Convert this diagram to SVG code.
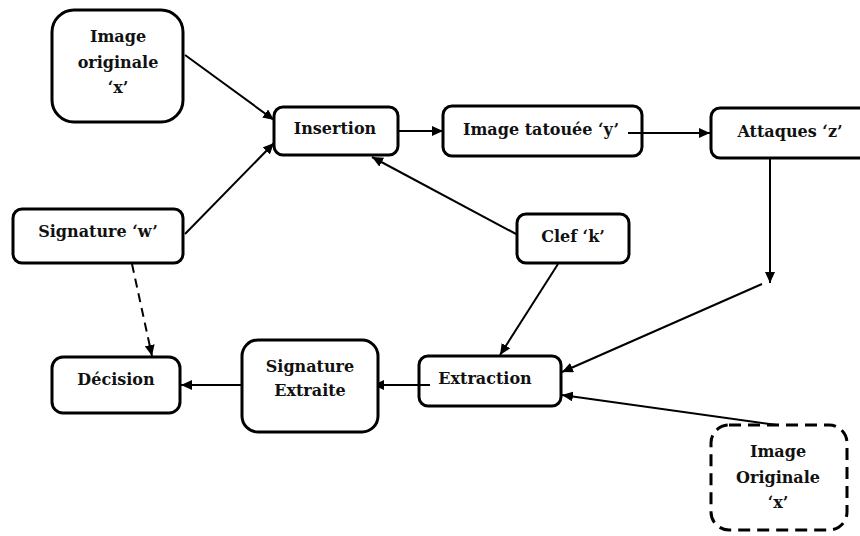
<svg xmlns="http://www.w3.org/2000/svg" width="860" height="536" viewBox="0 0 860 536">
<defs>
<marker id="ah" markerUnits="userSpaceOnUse" markerWidth="12" markerHeight="10" refX="11" refY="5" orient="auto">
<path d="M0,0 L11,5 L0,10 z" fill="#000"/>
</marker>
<style>
.box{fill:#fff;stroke:#000;stroke-width:3}
.dbox{fill:#fff;stroke:#000;stroke-width:3;stroke-dasharray:12,7}
.t{font-family:"DejaVu Serif","Liberation Serif",serif;font-weight:bold;font-size:16px;fill:#111;text-anchor:middle}
.c{stroke:#000;stroke-width:2;fill:none}
.cd{stroke:#000;stroke-width:2;fill:none;stroke-dasharray:9,6}
</style>
</defs>
<rect width="860" height="536" fill="#fff"/>
<g id="connectors">
<line class="c" x1="185" y1="55" x2="274" y2="120" marker-end="url(#ah)"/>
<line class="c" x1="185" y1="234" x2="274" y2="143" marker-end="url(#ah)"/>
<line class="c" x1="398" y1="131" x2="443" y2="131" marker-end="url(#ah)"/>
<line class="c" x1="628" y1="133" x2="710" y2="133" marker-end="url(#ah)"/>
<line class="c" x1="770" y1="158" x2="770" y2="283" marker-end="url(#ah)"/>
<line class="c" x1="762" y1="284" x2="562" y2="372" marker-end="url(#ah)"/>
<line class="c" x1="516" y1="234" x2="372" y2="157" marker-end="url(#ah)"/>
<line class="c" x1="558" y1="264" x2="500" y2="355" marker-end="url(#ah)"/>
<line class="c" x1="777" y1="425" x2="562" y2="395" marker-end="url(#ah)"/>
<line class="c" x1="430" y1="385" x2="373" y2="385" marker-end="url(#ah)"/>
<line class="c" x1="242" y1="385" x2="181" y2="385" marker-end="url(#ah)"/>
<line class="cd" x1="132" y1="264" x2="152" y2="356" marker-end="url(#ah)"/>
</g>
<g id="image-originale">
<rect class="box" x="52" y="10" width="131" height="112" rx="22"/>
<text class="t" x="118" y="42">Image</text>
<text class="t" x="118" y="68">originale</text>
<text class="t" x="118" y="93">‘x’</text>
</g>
<g id="insertion">
<rect class="box" x="274" y="107" width="124" height="48" rx="9"/>
<text class="t" x="335" y="134">Insertion</text>
</g>
<g id="image-tatouee">
<rect class="box" x="443" y="106" width="199" height="50" rx="9"/>
<text class="t" x="541" y="135">Image tatouée ‘y’</text>
</g>
<line class="c" x1="628" y1="133" x2="642" y2="133"/>
<g id="attaques">
<rect class="box" x="711" y="108" width="160" height="50" rx="9"/>
<text class="t" x="790" y="137">Attaques ‘z’</text>
</g>
<g id="signature-w">
<rect class="box" x="13" y="209" width="170" height="54" rx="9"/>
<text class="t" x="98" y="237">Signature ‘w’</text>
</g>
<g id="clef">
<rect class="box" x="517" y="214" width="112" height="49" rx="9"/>
<text class="t" x="573" y="242">Clef ‘k’</text>
</g>
<g id="decision">
<rect class="box" x="52" y="357" width="128" height="56" rx="11"/>
<text class="t" x="116" y="385">Décision</text>
</g>
<g id="signature-extraite">
<rect class="box" x="242" y="340" width="136" height="92" rx="16"/>
<text class="t" x="310" y="372">Signature</text>
<text class="t" x="310" y="396">Extraite</text>
</g>
<g id="extraction">
<rect class="box" x="419" y="356" width="142" height="50" rx="9"/>
<text class="t" x="485" y="384">Extraction</text>
</g>
<line class="c" x1="419" y1="385" x2="430" y2="385"/>
<g id="image-originale-2">
<rect class="dbox" x="711" y="425" width="136" height="105" rx="18"/>
<text class="t" x="778" y="457">Image</text>
<text class="t" x="778" y="483">Originale</text>
<text class="t" x="778" y="508">‘x’</text>
</g>
</svg>
